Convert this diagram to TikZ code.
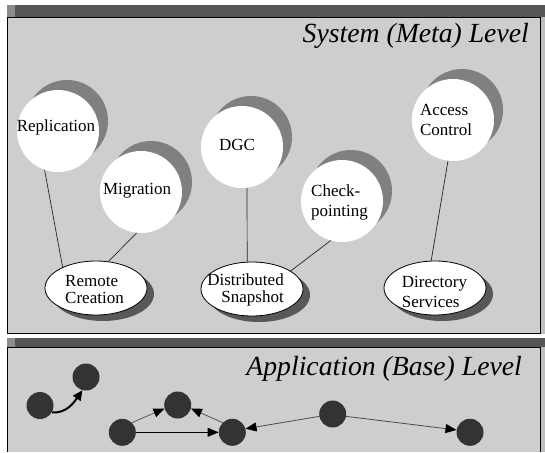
\documentclass[tikz,border=0pt]{standalone}
\usepackage{fontspec}
\setmainfont{Liberation Serif}
\usetikzlibrary{arrows.meta,shapes.geometric}
\definecolor{texture}{RGB}{206,206,206}
\definecolor{barc}{RGB}{85,85,85}
\definecolor{barlight}{RGB}{140,140,140}
\definecolor{cshad}{RGB}{128,128,128}
\definecolor{eshad}{RGB}{88,88,88}
\definecolor{dotc}{RGB}{51,51,51}
\definecolor{edgec}{RGB}{190,190,190}
\begin{document}
\begin{tikzpicture}[x=1pt,y=-1pt,
  bubble/.style={circle,fill=white,minimum size=82pt,inner sep=0pt},
  bshadow/.style={circle,fill=cshad,minimum size=82pt,inner sep=0pt},
  ell/.style={ellipse,draw=black,line width=0.8pt,fill=white,minimum width=102pt,minimum height=54pt,inner sep=0pt},
  eshadow/.style={ellipse,fill=eshad,minimum width=102pt,minimum height=54pt,inner sep=0pt},
  lbl/.style={font=\fontsize{17}{17}\selectfont,inner sep=0pt},
  link/.style={line width=0.7pt,black!85},
  ttl/.style={font=\fontsize{27.7}{30}\selectfont\itshape,anchor=base east,inner sep=0pt},
  dotn/.style={circle,fill=dotc,minimum size=27pt,inner sep=0pt},
  arr/.style={line width=0.8pt,-{Triangle[length=11pt,width=9pt,color=black]}}
]
\useasboundingbox (0,0) rectangle (545,452);
\fill[white] (0,0) rectangle (545,452);
% right edge strip
\fill[edgec] (540,17) rectangle (545,334);
\fill[edgec] (540,346.5) rectangle (545,452);
% top panel
\fill[barc] (7,5) rectangle (545,17);
\fill[barlight] (7,5) rectangle (15,17);
\fill[texture] (7,17) rectangle (540,333);
\draw[black,line width=0.8pt] (7.4,17.4) rectangle (540,333);
% bottom panel
\fill[barc] (7,338) rectangle (545,346.5);
\fill[barlight] (7,338) rectangle (15,346.5);
\fill[texture] (7,346.5) rectangle (540,452);
\draw[black,line width=0.8pt] (7.4,452) -- (7.4,346.9) -- (540,346.9) -- (540,452);

% titles
\node[ttl] (t1) at (529,43) {System (Meta) Level};
\node[ttl] (t2) at (522,375) {Application (Base) Level};

% circle shadows
\node[bshadow] (replS) at (67,121) {};
\node[bshadow] (migrS) at (151,182) {};
\node[bshadow] (dgcS) at (251,137) {};
\node[bshadow] (checkS) at (351,191) {};
\node[bshadow] (accS) at (462,110) {};
% circles
\node[bubble] (repl) at (58,131) {};
\node[bubble] (migr) at (141,192) {};
\node[bubble] (dgc) at (242,147) {};
\node[bubble] (check) at (342,201) {};
\node[bubble] (acc) at (453,120) {};
\node[lbl] (replT) at (56,127) {Replication};
\node[lbl] (migrT) at (137,191) {Migration};
\node[lbl] (dgcT) at (237,145) {DGC};
\node[lbl,align=left,font=\fontsize{17}{20}\selectfont] (checkT) at (339.5,202) {Check-\\pointing};
\node[lbl,align=left,font=\fontsize{17}{20}\selectfont] (accT) at (446,120) {Access\\Control};

% ellipse shadows
\node[eshadow] (remS) at (103,294) {};
\node[eshadow] (snapS) at (259,295) {};
\node[eshadow] (dirS) at (442,294) {};
% ellipses
\node[ell] (rem) at (96,288) {};
\node[ell] (snap) at (252,289) {};
\node[ell] (dir) at (435,288) {};
\node[lbl,align=left] (remT) at (94.5,290) {Remote\\Creation};
\node[lbl,align=right,font=\fontsize{17}{16.5}\selectfont] (snapT) at (245.5,290) {Distributed\\Snapshot};
\node[lbl,align=left,font=\fontsize{17}{20}\selectfont] (dirT) at (434.5,292) {Directory\\Services};

% links
\draw[link] (repl.-109) -- (rem.148);
\draw[link] (migr.-96) -- (rem.65);
\draw[link] (dgc.-83) -- (snap.100);
\draw[link] (check.-106) -- (snap.25);
\draw[link] (acc.-97) -- (dir.98);

% application level graph
\node[dotn] (a) at (40,405.5) {};
\node[dotn] (b) at (86,377) {};
\node[dotn] (c) at (177.7,405) {};
\node[dotn] (d) at (122.3,432.3) {};
\node[dotn] (e) at (232.3,432.3) {};
\node[dotn] (f) at (332.7,414) {};
\node[dotn] (g) at (470,432.3) {};

\draw[line width=2pt,-{Triangle[length=10pt,width=9pt]}] (a.-30) to[out=-5,in=-125] (b.-105);
\draw[arr,draw=black!65] (d.45) -- (c.195);
\draw[arr,draw=black!65] (e.135) -- (c.-15);
\draw[arr,draw=black] (d.0) -- (e.180);
\draw[arr,draw=black!70] (f.190) -- (e.15);
\draw[arr,draw=black!70] (f.-10) -- (g.170);
\end{tikzpicture}
\end{document}
